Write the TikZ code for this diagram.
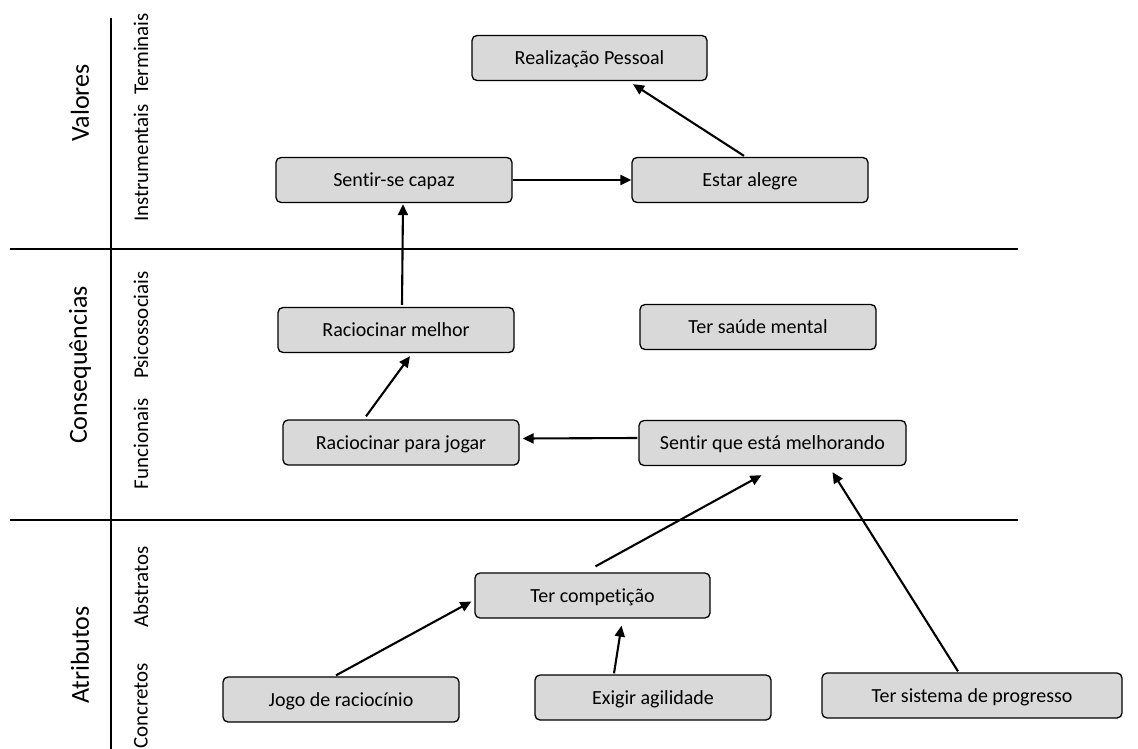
\documentclass[tikz,border=0pt]{standalone}
\usepackage{fontspec}
\setmainfont[Ligatures={NoCommon}]{Carlito}
\usetikzlibrary{arrows.meta,calc}
\begin{document}
\begin{tikzpicture}[x=1pt,y=-1pt,
  box/.style={draw=black,line width=1.3pt,fill=boxgray,rounded corners=5pt,
    minimum height=45pt,inner sep=0pt,text height=13pt,text depth=0pt,
    font=\fontsize{20}{22}\selectfont},
  arr/.style={line width=2.1pt,-{Triangle[length=11pt,width=10pt]}},
  rule/.style={line width=1.1pt},
  big/.style={rotate=90,font=\fontsize{26}{28}\selectfont},
  sub/.style={rotate=90,font=\fontsize{21}{23}\selectfont}]
\definecolor{boxgray}{HTML}{D9D9D9}
\useasboundingbox (0,0) rectangle (1138,749);
% frame lines
\coordinate (vt) at (111,18);
\coordinate (vb) at (111,749);
\coordinate (h1l) at (10,249);
\coordinate (h1r) at (1018,249);
\coordinate (h2l) at (10,520);
\coordinate (h2r) at (1018,520);
\draw[rule] (vt) -- (vb);
\draw[rule] (h1l) -- (h1r);
\draw[rule] (h2l) -- (h2r);
% row labels
\node[big] (lval) at (80,103) {Valores};
\node[big] (lcon) at (80,365) {Consequências};
\node[big] (latr) at (80,655) {Atributos};
\node[sub] (lter) at (141,54) {Terminais};
\node[sub] (lins) at (141,163) {Instrumentais};
\node[sub] (lpsi) at (141,325) {Psicossociais};
\node[sub] (lfun) at (141,444) {Funcionais};
\node[sub] (labs) at (141,587) {Abstratos};
\node[sub] (lcct) at (141,706) {Concretos};
% boxes
\node[box,minimum width=235pt] (rp) at (589.5,58) {Realização Pessoal};
\node[box,minimum width=236pt] (sc) at (394,180) {Sentir-se capaz};
\node[box,minimum width=236pt] (ea) at (750,180) {Estar alegre};
\node[box,minimum width=236pt] (rm) at (396,330) {Raciocinar melhor};
\node[box,minimum width=236pt] (ts) at (758,327) {Ter saúde mental};
\node[box,minimum width=236pt] (rj) at (401,442.5) {Raciocinar para jogar};
\node[box,minimum width=267pt] (sm) at (772.5,443) {Sentir que está melhorando};
\node[box,minimum width=235pt] (tc) at (592.5,595.5) {Ter competição};
\node[box,minimum width=236pt] (jr) at (341,699.5) {Jogo de raciocínio};
\node[box,minimum width=236pt] (eg) at (653,697.5) {Exigir agilidade};
\node[box,minimum width=300pt] (sp) at (972,695.5) {Ter sistema de progresso};
% connectors
\draw[arr] ($(ea.north)+(-6,-1)$) -- ($(rp.south)+(43.5,3)$);
\draw[arr] (sc.east) -- (ea.west);
\draw[arr] ($(rm.north)+(6,-2)$) -- ($(sc.south)+(9,1)$);
\draw[arr] ($(rj.north)+(-35,-3)$) -- ($(rm.south)+(14,3)$);
\draw[arr] ($(sm.west)+(-1,-5)$) -- ($(rj.east)+(3,-4)$);
\draw[arr] ($(tc.north)+(3,-6)$) -- ($(sm.south)+(-11,9)$);
\draw[arr] ($(sp.north)+(-14,-1)$) -- ($(sm.south)+(60,6)$);
\draw[arr] ($(jr.north)+(-5,-1)$) -- ($(tc.west)+(-3,6)$);
\draw[arr] ($(eg.north)+(-39,-1)$) -- ($(tc.south)+(29,7)$);
\end{tikzpicture}
\end{document}
